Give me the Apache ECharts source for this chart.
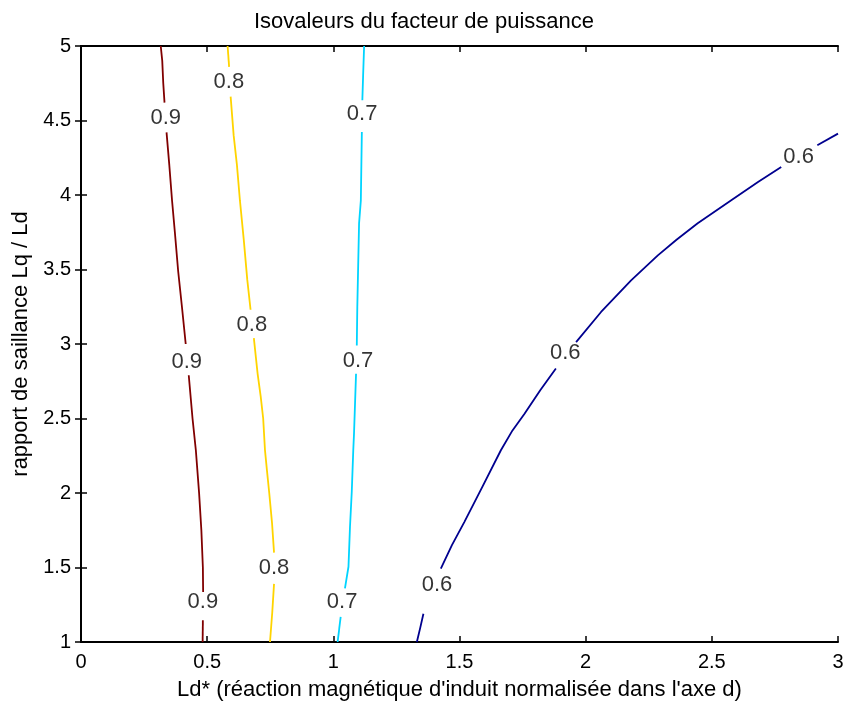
<!DOCTYPE html>
<html><head><meta charset="utf-8">
<script src="https://cdn.jsdelivr.net/npm/echarts@6/dist/echarts.min.js"></script>
<style>html,body{margin:0;padding:0;background:#fff;overflow:hidden}#c{width:848px;height:706px}</style>
</head><body><div id="c"></div>
<script>
// Contour levels and their colours
const levels = [0.9, 0.8, 0.7, 0.6];
const levelColors = ['#800000', '#ffd400', '#00d4ff', '#00008f'];
// Contour line segments (gaps where labels sit): [Ld*, Lq/Ld]
const contour09 = [
  [[0.316,5.0],[0.322,4.9],[0.326,4.75],[0.331,4.62]],
  [[0.339,4.42],[0.350,4.2],[0.361,3.96],[0.372,3.75],[0.385,3.49],[0.400,3.25],[0.415,3.0]],
  [[0.427,2.79],[0.442,2.5],[0.455,2.29],[0.468,2.0],[0.477,1.75],[0.483,1.5],[0.484,1.335]],
  [[0.483,1.146],[0.482,1.0]]
];
const contour08 = [
  [[0.581,5.0],[0.587,4.86]],
  [[0.593,4.66],[0.605,4.4],[0.618,4.2],[0.630,3.96],[0.645,3.7],[0.659,3.43],[0.672,3.23]],
  [[0.685,3.04],[0.700,2.8],[0.712,2.65],[0.722,2.5],[0.729,2.29],[0.737,2.15],[0.746,2.0],[0.757,1.8],[0.765,1.6]],
  [[0.765,1.39],[0.758,1.2],[0.749,1.0]]
];
const contour07 = [
  [[1.122,5.0],[1.118,4.8],[1.115,4.636]],
  [[1.113,4.423],[1.109,3.963],[1.102,3.81],[1.095,3.25],[1.093,2.99]],
  [[1.090,2.80],[1.082,2.4],[1.079,2.287],[1.073,2.007],[1.066,1.772],[1.060,1.505],[1.046,1.36]],
  [[1.029,1.168],[1.017,1.0]]
];
const contour06 = [
  [[1.331,1.0],[1.345,1.1],[1.357,1.19]],
  [[1.426,1.492],[1.470,1.65],[1.519,1.805],[1.590,2.04],[1.664,2.287],[1.710,2.42],[1.757,2.53],[1.820,2.69],[1.882,2.835]],
  [[1.962,3.013],[2.061,3.215],[2.180,3.427],[2.286,3.595],[2.360,3.70],[2.444,3.81],[2.577,3.964],[2.683,4.087],[2.775,4.188]],
  [[2.918,4.334],[3.0,4.412]]
];
const contours = [contour09, contour08, contour07, contour06];
// Label anchor positions for each level
const labels09 = [[0.336,4.52],[0.419,2.877],[0.483,1.271]];
const labels08 = [[0.586,4.756],[0.677,3.126],[0.765,1.494]];
const labels07 = [[1.114,4.542],[1.098,2.889],[1.035,1.271]];
const labels06 = [[1.411,1.381],[1.919,2.938],[2.844,4.253]];
const labelPos = [labels09, labels08, labels07, labels06];
// Axis ticks
const xTicks = [0, 0.5, 1, 1.5, 2, 2.5, 3];
const yTicks = [1, 1.5, 2, 2.5, 3, 3.5, 4, 4.5, 5];

const FONT = 'Liberation Sans, Arial, sans-serif';
const series = [];
contours.forEach((segs, i) => {
  segs.forEach(seg => {
    series.push({type:'line', data: seg, symbol:'none', silent:true,
      lineStyle:{color: levelColors[i], width: 1.8}, animation:false});
  });
});
labelPos.forEach((pts, i) => {
  series.push({type:'scatter', symbolSize:0, data: pts, silent:true, animation:false,
    label:{show:true, position:'inside', formatter: () => String(levels[i]),
      color:'#000', fontSize:22, fontFamily:FONT}});
});

const axisCommon = {
  axisLine:{show:true, lineStyle:{color:'#000', width:2}},
  axisTick:{show:true, inside:true, length:6, lineStyle:{color:'#000', width:1.5}},
  splitLine:{show:false}
};
const chart = echarts.init(document.getElementById('c'), null, {renderer:'canvas'});
chart.setOption({
  backgroundColor:'#fff',
  animation:false,
  title:{text:'Isovaleurs du facteur de puissance', left:'center', top:6,
    textStyle:{fontFamily:FONT, fontSize:22, fontWeight:'normal', color:'#000'}},
  grid:{left:81, right:10, top:46, bottom:64, containLabel:false, outerBoundsMode:'none'},
  xAxis:[
    Object.assign({type:'value', min:xTicks[0], max:xTicks[xTicks.length-1], interval:0.5, position:'bottom',
      name:"Ld* (réaction magnétique d'induit normalisée dans l'axe d)", nameLocation:'middle', nameGap:37,
      nameTextStyle:{fontFamily:FONT, fontSize:22, color:'#000'},
      axisLabel:{fontFamily:FONT, fontSize:20, color:'#000', margin:10}}, axisCommon),
    Object.assign({type:'value', min:xTicks[0], max:xTicks[xTicks.length-1], interval:0.5, position:'top',
      axisLabel:{show:false}}, axisCommon)
  ],
  yAxis:[
    Object.assign({type:'value', min:yTicks[0], max:yTicks[yTicks.length-1], interval:0.5, position:'left',
      name:'rapport de saillance Lq / Ld', nameLocation:'middle', nameGap:48, nameRotate:90,
      nameTextStyle:{fontFamily:FONT, fontSize:22, color:'#000'},
      axisLabel:{fontFamily:FONT, fontSize:20, color:'#000', margin:10}}, axisCommon),
    Object.assign({type:'value', min:yTicks[0], max:yTicks[yTicks.length-1], interval:0.5, position:'right',
      axisLabel:{show:false}}, axisCommon)
  ],
  series: series
});
</script></body></html>
